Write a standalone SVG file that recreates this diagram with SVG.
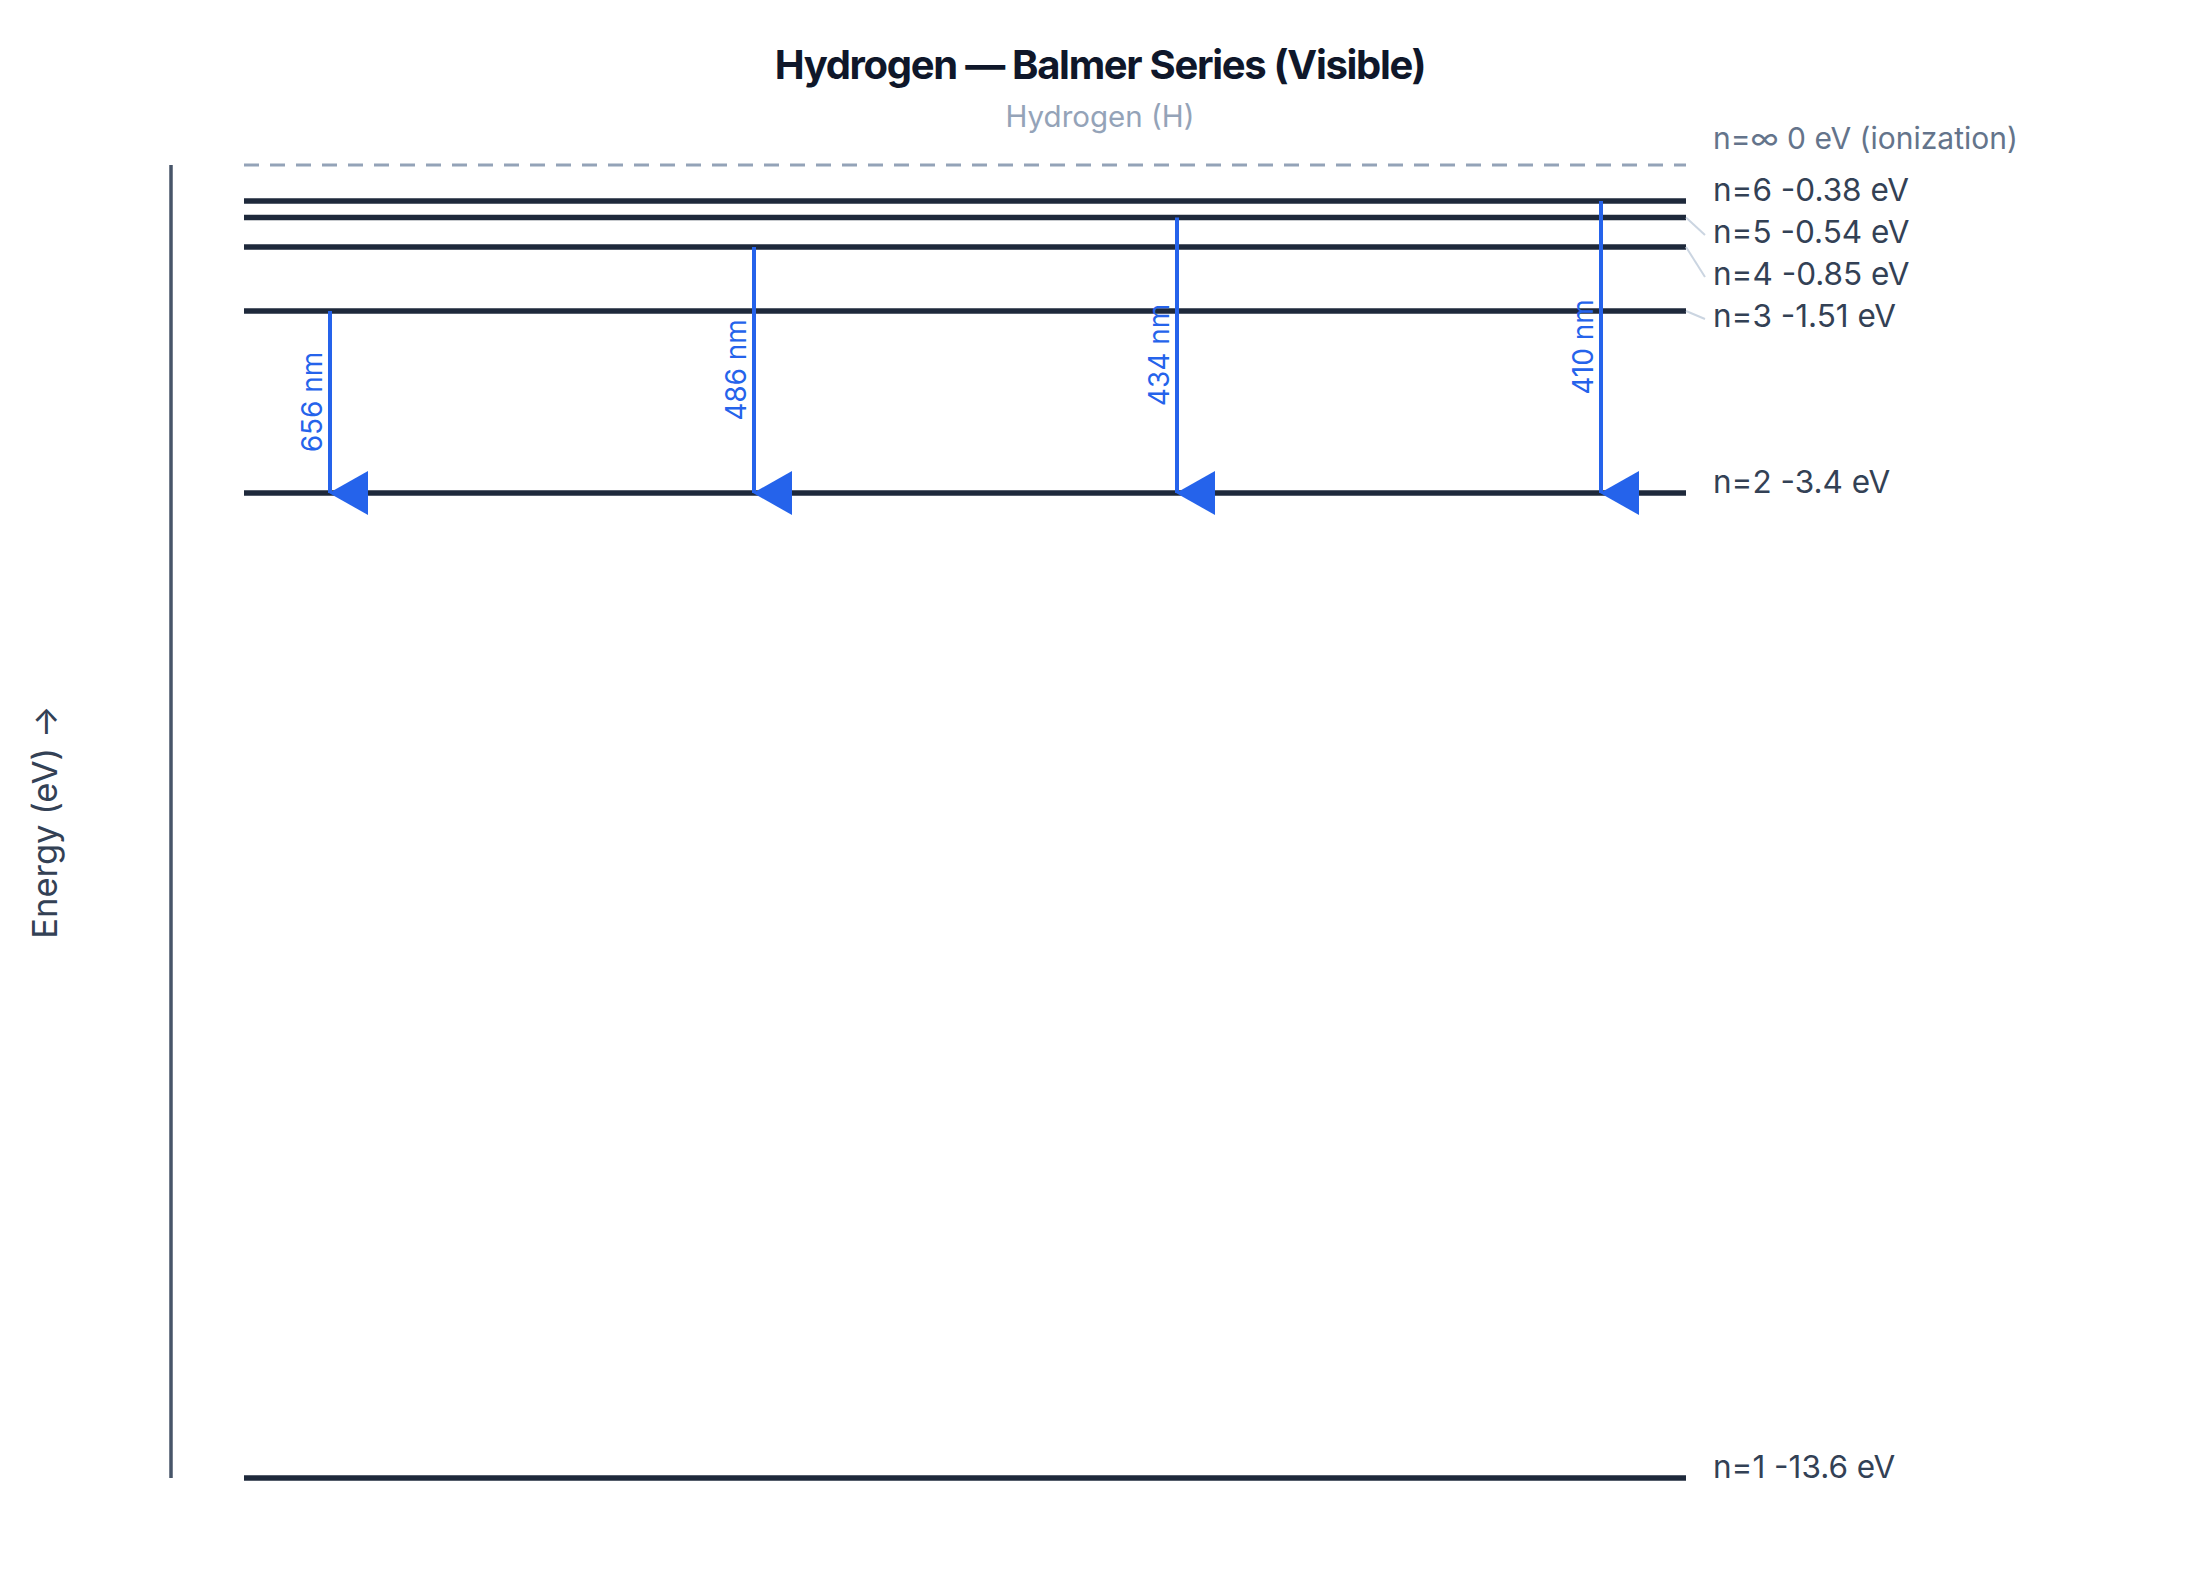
<svg xmlns="http://www.w3.org/2000/svg" width="2200" height="1589" viewBox="0 0 2200 1589">
  <style>
    text { font-family: Inter, "Liberation Sans", Arial, sans-serif; }
    .title { font-size: 40px; font-weight: 700; fill: #0f172a; letter-spacing: -1.3px; }
    .subtitle { font-size: 29.5px; fill: #94a3b8; }
    .level { stroke: #1e293b; stroke-width: 5.5; }
    .ion { stroke: #94a3b8; stroke-width: 3; stroke-dasharray: 15 11; }
    .lvl-label { font-size: 31.5px; fill: #334155; }
    .ion-label { font-size: 30px; fill: #64748b; }
    .leader { stroke: #cbd5e1; stroke-width: 2; fill: none; }
    .axis { stroke: #475569; stroke-width: 3.5; }
    .axis-label { font-size: 34.5px; fill: #334155; }
    .trans { stroke: #2563eb; stroke-width: 4; }
    .head { fill: #2563eb; }
    .trans-label { font-size: 28px; fill: #2563eb; }
  </style>
  <rect width="2200" height="1589" fill="#ffffff"/>

  <g id="title">
    <text class="title" x="1100" y="79" text-anchor="middle">Hydrogen — Balmer Series (Visible)</text>
    <text class="subtitle" x="1100" y="127" text-anchor="middle">Hydrogen (H)</text>
  </g>

  <g id="axis">
    <line class="axis" x1="171" y1="165" x2="171" y2="1478"/>
    <text class="axis-label" transform="translate(57 822) rotate(-90)" text-anchor="middle">Energy (eV) →</text>
  </g>

  <g id="level-inf">
    <line class="ion" x1="244" y1="165" x2="1686" y2="165"/>
    <text class="ion-label" x="1713" y="149">n=∞ 0 eV (ionization)</text>
  </g>
  <g id="level-6">
    <line class="level" x1="244" y1="201" x2="1686" y2="201"/>
    <text class="lvl-label" x="1713" y="201">n=6 -0.38 eV</text>
  </g>
  <g id="level-5">
    <line class="level" x1="244" y1="217.5" x2="1686" y2="217.5"/>
    <text class="lvl-label" x="1713" y="243">n=5 -0.54 eV</text>
  </g>
  <g id="level-4">
    <line class="level" x1="244" y1="247" x2="1686" y2="247"/>
    <text class="lvl-label" x="1713" y="285">n=4 -0.85 eV</text>
  </g>
  <g id="level-3">
    <line class="level" x1="244" y1="311" x2="1686" y2="311"/>
    <text class="lvl-label" x="1713" y="327">n=3 -1.51 eV</text>
  </g>
  <g id="level-2">
    <line class="level" x1="244" y1="493" x2="1686" y2="493"/>
    <text class="lvl-label" x="1713" y="493">n=2 -3.4 eV</text>
  </g>
  <g id="level-1">
    <line class="level" x1="244" y1="1478" x2="1686" y2="1478"/>
    <text class="lvl-label" x="1713" y="1478">n=1 -13.6 eV</text>
  </g>

  <g id="leaders">
    <line class="leader" x1="1686" y1="217.5" x2="1705" y2="235"/>
    <line class="leader" x1="1686" y1="247" x2="1705" y2="277"/>
    <line class="leader" x1="1686" y1="311" x2="1705" y2="319"/>
  </g>

  <g id="connectors">
    <g id="t656">
      <line class="trans" x1="330" y1="311" x2="330" y2="493"/>
      <polygon class="head" points="329,493 368,471 368,515"/>
      <text class="trans-label" transform="translate(322 402) rotate(-90)" text-anchor="middle">656 nm</text>
    </g>
    <g id="t486">
      <line class="trans" x1="754" y1="247" x2="754" y2="493"/>
      <polygon class="head" points="753,493 792,471 792,515"/>
      <text class="trans-label" transform="translate(746 370) rotate(-90)" text-anchor="middle">486 nm</text>
    </g>
    <g id="t434">
      <line class="trans" x1="1177" y1="217.5" x2="1177" y2="493"/>
      <polygon class="head" points="1176,493 1215,471 1215,515"/>
      <text class="trans-label" transform="translate(1169 355) rotate(-90)" text-anchor="middle">434 nm</text>
    </g>
    <g id="t410">
      <line class="trans" x1="1601" y1="201" x2="1601" y2="493"/>
      <polygon class="head" points="1600,493 1639,471 1639,515"/>
      <text class="trans-label" transform="translate(1593 347) rotate(-90)" text-anchor="middle">410 nm</text>
    </g>
  </g>
</svg>
